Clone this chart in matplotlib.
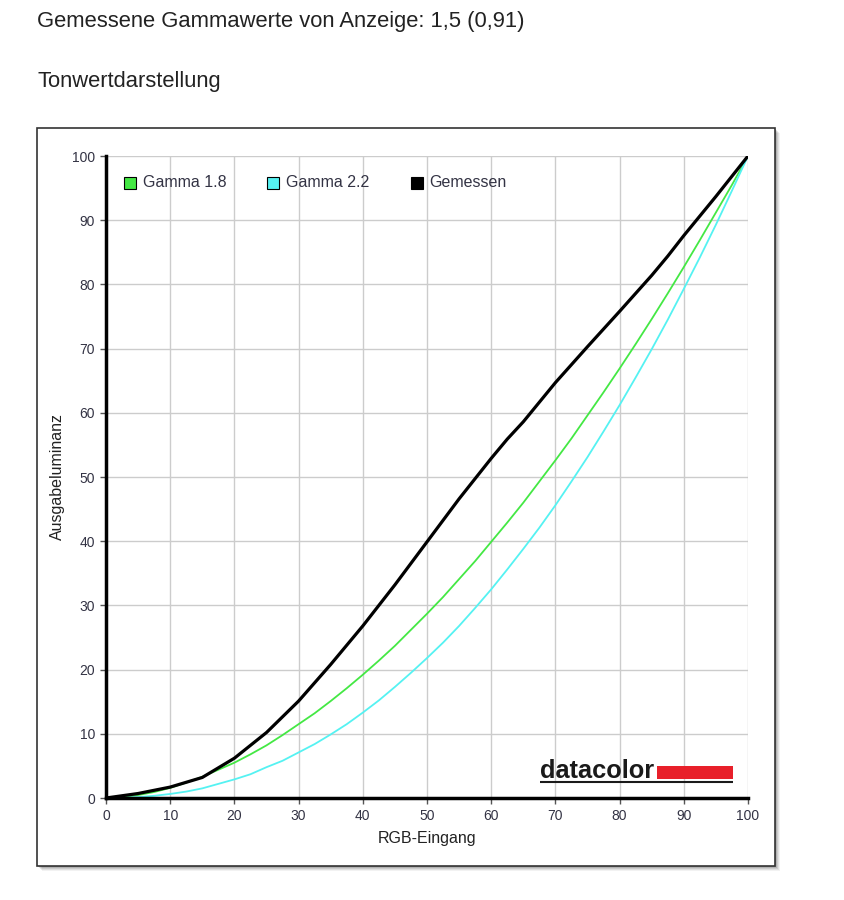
import matplotlib.pyplot as plt
from matplotlib.patches import Rectangle

plt.rcParams['font.family'] = ['Liberation Sans', 'DejaVu Sans']

# RGB input (x) and luminance output (y)
rgb_in = [0, 2.5, 5, 7.5, 10, 12.5, 15, 17.5, 20, 22.5, 25, 27.5, 30, 32.5, 35, 37.5, 40,
          42.5, 45, 47.5, 50, 52.5, 55, 57.5, 60, 62.5, 65, 67.5, 70, 72.5, 75, 77.5, 80,
          82.5, 85, 87.5, 90, 92.5, 95, 97.5, 100]
gamma18 = [0, 0.13, 0.46, 0.93, 1.58, 2.4, 3.3, 4.4, 5.5, 6.8, 8.2, 9.8, 11.5, 13.2, 15.1,
           17.1, 19.2, 21.4, 23.7, 26.2, 28.7, 31.3, 34.1, 36.9, 39.9, 42.9, 46.0, 49.3,
           52.6, 56.0, 59.6, 63.2, 66.9, 70.7, 74.6, 78.6, 82.7, 86.9, 91.2, 95.5, 100]
gamma22 = [0, 0.03, 0.14, 0.34, 0.63, 1.0, 1.5, 2.2, 2.9, 3.7, 4.8, 5.8, 7.1, 8.4, 9.9,
           11.5, 13.3, 15.2, 17.3, 19.5, 21.8, 24.2, 26.8, 29.6, 32.5, 35.6, 38.8, 42.1,
           45.6, 49.3, 53.1, 57.1, 61.2, 65.5, 69.9, 74.5, 79.3, 84.2, 89.3, 94.6, 100]

meas_in = [0, 5, 10, 15, 20, 25, 30, 35, 40, 45, 50, 55, 60, 62.5, 65, 70, 75, 80, 85,
           87.5, 90, 95, 100]
measured = [0, 0.7, 1.7, 3.2, 6.2, 10.2, 15.1, 20.8, 26.8, 33.2, 39.9, 46.6, 52.9,
            55.9, 58.6, 64.7, 70.3, 75.8, 81.4, 84.4, 87.6, 93.7, 100]

labels = ['Gamma 1.8', 'Gamma 2.2', 'Gemessen']
colors = ['#44e844', '#55f2f2', '#000000']

fig = plt.figure(figsize=(8.45, 9), dpi=100)

# titles
fig.text(37 / 845, 1 - 22 / 900, 'Gemessene Gammawerte von Anzeige: 1,5 (0,91)',
         fontsize=15.8, color='#222222', va='center', ha='left')
fig.text(37 / 845, 1 - 82 / 900, 'Tonwertdarstellung',
         fontsize=15.8, color='#222222', va='center', ha='left')

# framed panel with soft shadow
for i, a in enumerate([0.05, 0.07, 0.09, 0.12, 0.18]):
    off = 5 - i
    fig.patches.append(Rectangle(((37 + off) / 845, 1 - (866 + off) / 900),
                                 738 / 845, 738 / 900, transform=fig.transFigure,
                                 facecolor='black', alpha=a, edgecolor='none', zorder=0))
fig.patches.append(Rectangle((37 / 845, 1 - 866 / 900), 738 / 845, 738 / 900,
                             transform=fig.transFigure, facecolor='white',
                             edgecolor='#333333', linewidth=1.2, zorder=1))

ax = fig.add_axes([106 / 845, 1 - 798 / 900, 642 / 845, 642 / 900])
ax.set_zorder(2)
ax.set_xlim(0, 100)
ax.set_ylim(0, 100)
ax.set_xticks(range(0, 101, 10))
ax.set_yticks(range(0, 101, 10))
ax.grid(True, color='#cccccc', linewidth=1)
ax.set_axisbelow(True)
for s in ['top', 'right']:
    ax.spines[s].set_visible(False)
for s in ['left', 'bottom']:
    ax.spines[s].set_linewidth(2.5)
    ax.spines[s].set_color('black')
ax.tick_params(labelsize=10, labelcolor='#333344', length=4, width=1, color='#555555', pad=4)

ax.plot(rgb_in, gamma18, color=colors[0], linewidth=1.3, label=labels[0])
ax.plot(rgb_in, gamma22, color=colors[1], linewidth=1.3, label=labels[1])
ax.plot(meas_in, measured, color=colors[2], linewidth=2.3, label=labels[2],
        solid_joinstyle='round')

ax.set_xlabel('RGB-Eingang', fontsize=11.5, color='#222222', va='center')
ax.set_ylabel('Ausgabeluminanz', fontsize=11.5, color='#222222', va='center')
ax.xaxis.set_label_coords(0.5, -40 / 642)
ax.yaxis.set_label_coords(-49 / 642, 0.5)

# legend with square swatches
for i, (lab, col) in enumerate(zip(labels, colors)):
    x0 = 2.8 + i * 22.35
    ax.add_patch(Rectangle((x0, 94.9), 1.8, 1.8, facecolor=col, edgecolor='black',
                           linewidth=0.8, zorder=5))
    ax.text(x0 + 2.9, 95.8, lab, fontsize=11.5, color='#333344', va='center', ha='left', zorder=5)

# datacolor logo
ax.text(67.6, 3.1, 'datacolor', fontsize=18.3, fontweight='bold', color='#1a1a1a',
        va='baseline', ha='left', zorder=5)
ax.add_patch(Rectangle((85.8, 2.95), 11.9, 2.05, facecolor='#e8202a', edgecolor='none', zorder=5))
ax.plot([67.6, 97.7], [2.5, 2.5], color='#1a1a1a', linewidth=1.5, zorder=5,
        solid_capstyle='butt')

plt.savefig('out.png', dpi=100)
